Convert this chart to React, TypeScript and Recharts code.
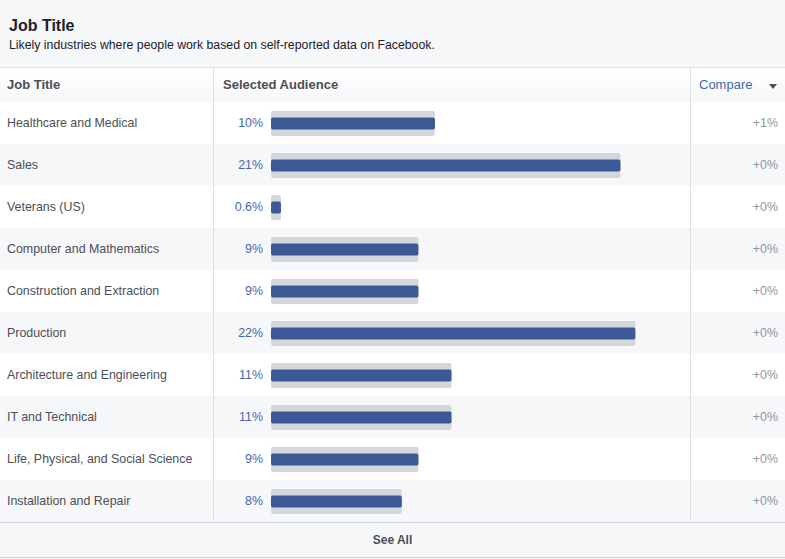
import { BarChart, Bar, XAxis, YAxis } from 'recharts'

const jobTitles = [
  'Healthcare and Medical',
  'Sales',
  'Veterans (US)',
  'Computer and Mathematics',
  'Construction and Extraction',
  'Production',
  'Architecture and Engineering',
  'IT and Technical',
  'Life, Physical, and Social Science',
  'Installation and Repair',
]
const selectedAudience = [9.9, 21.1, 0.6, 8.9, 8.9, 22.0, 10.9, 10.9, 8.9, 7.9]
const compareDelta = [1, 0, 0, 0, 0, 0, 0, 0, 0, 0]

const FONT = '"Liberation Sans", Arial, Helvetica, sans-serif'
const ROW_H = 42
const BORDER = '#dddfe2'

const fmtPct = (v: number) => (v < 1 ? v.toFixed(1) : String(Math.round(v))) + '%'

const rows = jobTitles.map((name, i) => ({
  name,
  value: selectedAudience[i],
  pct: fmtPct(selectedAudience[i]),
  compare: `+${compareDelta[i]}%`,
}))

function RowTick(props: any) {
  const { y, payload } = props
  const row = rows.find((r) => r.name === payload.value)
  return (
    <g fontFamily={FONT} fontSize={12.4}>
      <text x={7} y={y} dy={4} textAnchor="start" fill="#4b4f56">
        {payload.value}
      </text>
      <text x={263} y={y} dy={4} textAnchor="end" fill="#4267b2">
        {row?.pct}
      </text>
      <text x={778} y={y} dy={4} textAnchor="end" fill="#90949c">
        {row?.compare}
      </text>
    </g>
  )
}

function TrackBar(props: any) {
  const { x, y, width, height } = props
  const inner = 12
  return (
    <g>
      <rect x={x} y={y} width={width} height={height} rx={2} fill="#d3d6db" />
      <rect x={x} y={y + (height - inner) / 2} width={width} height={inner} rx={2} fill="#3b5897" />
    </g>
  )
}

export default function App() {
  const chartH = rows.length * ROW_H
  return (
    <div
      style={{
        position: 'absolute',
        left: 0,
        top: 0,
        width: 785,
        height: 559,
        background: '#f6f7f9',
        fontFamily: FONT,
        overflow: 'hidden',
      }}
    >
      <div style={{ position: 'absolute', left: 9, top: 17, fontSize: 16, fontWeight: 'bold', color: '#1d2129' }}>
        Job Title
      </div>
      <div style={{ position: 'absolute', left: 9, top: 38, fontSize: 12.3, color: '#1d2129' }}>
        Likely industries where people work based on self-reported data on Facebook.
      </div>

      {/* header row */}
      <div
        style={{
          position: 'absolute',
          left: 0,
          top: 67,
          width: 785,
          height: 34,
          borderTop: `1px solid ${BORDER}`,
          borderBottom: '1px solid #d3d6db',
          background: 'linear-gradient(#ffffff, #f6f7f9)',
          fontSize: 13,
          fontWeight: 'bold',
          color: '#4b4f56',
        }}
      >
        <span style={{ position: 'absolute', left: 7, top: 9 }}>Job Title</span>
        <span style={{ position: 'absolute', left: 223, top: 9 }}>Selected Audience</span>
        <span style={{ position: 'absolute', left: 699, top: 9, fontSize: 13, fontWeight: 'normal', color: '#4267b2' }}>
          Compare
        </span>
        <span
          style={{
            position: 'absolute',
            left: 769,
            top: 16,
            width: 0,
            height: 0,
            borderLeft: '4px solid transparent',
            borderRight: '4px solid transparent',
            borderTop: '5px solid #4b4f56',
          }}
        />
      </div>

      {/* striped rows + chart */}
      <div
        style={{
          position: 'absolute',
          left: 0,
          top: 102,
          width: 785,
          height: chartH,
          background: `repeating-linear-gradient(#ffffff 0 ${ROW_H}px, #f6f7f9 ${ROW_H}px ${ROW_H * 2}px)`,
        }}
      >
        <BarChart
          width={785}
          height={chartH}
          data={rows}
          layout="vertical"
          margin={{ top: 0, right: 95, bottom: 0, left: 0 }}
        >
          <XAxis type="number" hide domain={[0, 25.3]} />
          <YAxis
            type="category"
            dataKey="name"
            width={271}
            axisLine={false}
            tickLine={false}
            interval={0}
            tick={<RowTick />}
          />
          <Bar dataKey="value" barSize={25} shape={<TrackBar />} isAnimationActive={false} />
        </BarChart>
      </div>

      {/* column separators */}
      <div style={{ position: 'absolute', left: 213, top: 68, width: 1, height: 454, background: BORDER }} />
      <div style={{ position: 'absolute', left: 690, top: 68, width: 1, height: 454, background: BORDER }} />

      {/* see all */}
      <div
        style={{
          position: 'absolute',
          left: 0,
          top: 522,
          width: 785,
          height: 34,
          borderTop: '1px solid #d3d6db',
          borderBottom: '1px solid #d3d6db',
          background: '#f6f7f9',
          textAlign: 'center',
          lineHeight: '34px',
          fontSize: 12,
          fontWeight: 'bold',
          color: '#4b4f56',
        }}
      >
        See All
      </div>
    </div>
  )
}
